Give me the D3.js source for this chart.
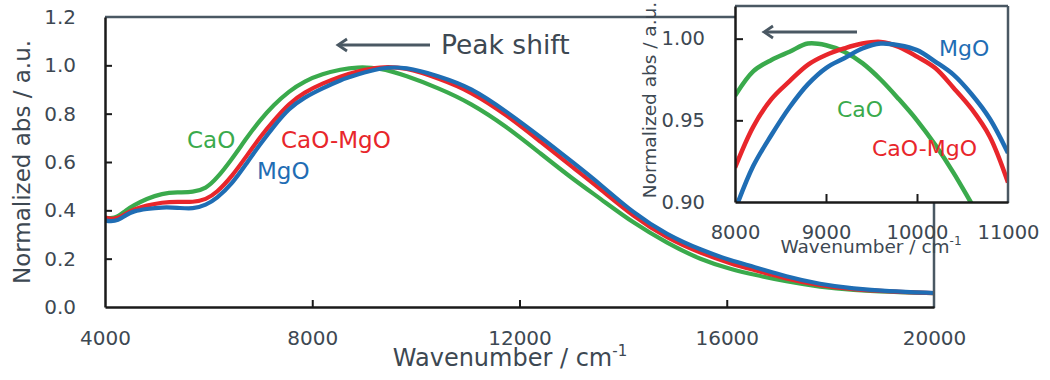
<!DOCTYPE html>
<html><head><meta charset="utf-8">
<script src="https://cdn.jsdelivr.net/npm/d3@7"></script>
<style>body{margin:0;background:#fff}svg{display:block}text{font-family:"DejaVu Sans",Verdana,sans-serif}</style>
</head><body>
<svg id="c" width="1050" height="380"></svg>
<script>
// main spectrum
const wavenumbers = [4000,4100,4250,4400,4550,4800,5100,5400,5700,5950,6150,6450,6750,7000,7250,7550,7850,8200,8550,8850,9300,9800,10450,11050,11750,12400,13050,13550,14200,14850,15500,16100,16500,17150,17800,18450,19100,20000];
const caoValues    = [0.370,0.366,0.372,0.400,0.420,0.448,0.470,0.475,0.475,0.490,0.530,0.612,0.705,0.775,0.835,0.893,0.935,0.965,0.983,0.993,0.990,0.958,0.905,0.845,0.747,0.636,0.526,0.450,0.347,0.264,0.195,0.155,0.135,0.105,0.083,0.070,0.063,0.057];
const caoMgoValues = [0.370,0.364,0.366,0.386,0.404,0.420,0.433,0.436,0.433,0.445,0.472,0.540,0.630,0.705,0.770,0.842,0.889,0.925,0.955,0.974,0.995,0.992,0.945,0.893,0.795,0.685,0.574,0.490,0.374,0.284,0.222,0.178,0.155,0.117,0.088,0.073,0.064,0.057];
const mgoValues    = [0.358,0.354,0.357,0.380,0.397,0.406,0.413,0.411,0.405,0.422,0.448,0.508,0.600,0.675,0.745,0.822,0.868,0.905,0.940,0.960,0.990,0.995,0.955,0.910,0.809,0.705,0.595,0.510,0.388,0.298,0.236,0.190,0.168,0.125,0.094,0.076,0.065,0.058];
// inset (zoom on the peak)
const insetWavenumbers = [8000,8200,8400,8600,8800,9000,9200,9400,9600,9800,10000,10200,10400,10600,10800,11000];
const insetCao    = [0.965,0.980,0.987,0.992,0.997,0.996,0.992,0.985,0.975,0.963,0.950,0.935,0.918,0.899,0.880,0.860];
const insetCaoMgo = [0.921,0.946,0.963,0.974,0.984,0.990,0.994,0.997,0.998,0.995,0.989,0.982,0.970,0.957,0.940,0.912];
const insetMgo    = [0.895,0.922,0.941,0.958,0.972,0.982,0.988,0.994,0.997,0.996,0.993,0.986,0.978,0.966,0.951,0.930];
const mainXTicks = [4000,8000,12000,16000,20000];
const mainYTicks = [0,0.2,0.4,0.6,0.8,1.0,1.2];
const insetXTicks = [8000,9000,10000,11000];
const insetYTicks = [0.90,0.95,1.00];

const series = [
  {name:"CaO", values:caoValues, inset:insetCao, color:"#3aaa4c"},
  {name:"CaO-MgO", values:caoMgoValues, inset:insetCaoMgo, color:"#e8262b"},
  {name:"MgO", values:mgoValues, inset:insetMgo, color:"#1f6db4"}
];
const txt = "#3d4852", frame = "#4a5863", ax = "#1a1a1a";
const svg = d3.select("#c");

// main
const x = d3.scaleLinear().domain([4000,20000]).range([105,934]);
const y = d3.scaleLinear().domain([0,1.2]).range([307,17]);
svg.append("clipPath").attr("id","mc").append("rect").attr("x",105).attr("y",17).attr("width",829).attr("height",290);
const gm = svg.append("g").attr("clip-path","url(#mc)");
const line = d3.line().x(d=>x(d[0])).y(d=>y(d[1])).curve(d3.curveBasis);
[series[0],series[1],series[2]].forEach(s=>{
  gm.append("path").attr("d",line(wavenumbers.map((w,i)=>[w,s.values[i]])))
    .attr("fill","none").attr("stroke",s.color).attr("stroke-width",4.2);
});
// frame
svg.append("line").attr("x1",105).attr("x2",934).attr("y1",17).attr("y2",17).attr("stroke",frame).attr("stroke-width",2.5);
svg.append("line").attr("x1",934).attr("x2",934).attr("y1",17).attr("y2",308).attr("stroke",frame).attr("stroke-width",2.5);
const xa = svg.append("g").attr("transform","translate(0,307)").call(d3.axisBottom(x).tickValues(mainXTicks).tickFormat(d3.format("d")).tickSizeInner(-7).tickSizeOuter(0).tickPadding(24));
const ya = svg.append("g").attr("transform","translate(105,0)").call(d3.axisLeft(y).tickValues(mainYTicks).tickFormat(d3.format(".1f")).tickSizeInner(-7).tickSizeOuter(0).tickPadding(29));
[xa,ya].forEach(g=>{
  g.select(".domain").attr("stroke",ax).attr("stroke-width",2.5);
  g.selectAll(".tick line").attr("stroke",ax).attr("stroke-width",2);
  g.selectAll(".tick text").attr("fill",txt).attr("font-size",20).attr("font-family","DejaVu Sans");
});
xa.selectAll(".tick").filter(d=>d===4000||d===20000).select("line").remove();
ya.selectAll(".tick").filter(d=>d===0||d===1.2).select("line").remove();

svg.append("text").attr("transform","translate(30,162) rotate(-90)").attr("text-anchor","middle")
  .attr("fill",txt).attr("font-size",23).text("Normalized abs / a.u.");
const xt = svg.append("text").attr("x",510).attr("y",366).attr("text-anchor","middle").attr("fill",txt).attr("font-size",24);
xt.append("tspan").text("Wavenumber / cm");
xt.append("tspan").attr("font-size",15).attr("dy",-10).text("-1");

// peak shift arrow
function arrow(x1,x2,yy,w,h){
  svg.append("line").attr("x1",x1).attr("x2",x2+2).attr("y1",yy).attr("y2",yy).attr("stroke",frame).attr("stroke-width",2.8);
  svg.append("path").attr("d",`M${x2+w},${yy-h}L${x2},${yy}L${x2+w},${yy+h}`).attr("fill","none").attr("stroke",frame).attr("stroke-width",2.8).attr("stroke-linejoin","miter");
}
arrow(430,338,45,9,6);
svg.append("text").attr("x",441).attr("y",54).attr("fill",txt).attr("font-size",26.5).text("Peak shift");

// series labels main
svg.append("text").attr("x",187).attr("y",148).attr("fill",series[0].color).attr("font-size",23).text("CaO");
svg.append("text").attr("x",281).attr("y",148).attr("fill",series[1].color).attr("font-size",23).text("CaO-MgO");
svg.append("text").attr("x",257).attr("y",179).attr("fill",series[2].color).attr("font-size",23).text("MgO");

// inset
const ix = d3.scaleLinear().domain([8000,11000]).range([735,1008]);
const iy = d3.scaleLinear().domain([0.90,1.02]).range([202,6]);
svg.append("rect").attr("x",735).attr("y",6).attr("width",273).attr("height",196).attr("fill","#fff");
svg.append("clipPath").attr("id","ic").append("rect").attr("x",735).attr("y",6).attr("width",273).attr("height",196);
const gi = svg.append("g").attr("clip-path","url(#ic)");
const iline = d3.line().x(d=>ix(d[0])).y(d=>iy(d[1])).curve(d3.curveCatmullRom.alpha(0.5));
[series[0],series[1],series[2]].forEach(s=>{
  gi.append("path").attr("d",iline(insetWavenumbers.map((w,i)=>[w,s.inset[i]])))
    .attr("fill","none").attr("stroke",s.color).attr("stroke-width",4.5);
});
svg.append("line").attr("x1",735).attr("x2",1008).attr("y1",6).attr("y2",6).attr("stroke",frame).attr("stroke-width",2.5);
svg.append("line").attr("x1",1008).attr("x2",1008).attr("y1",6).attr("y2",203).attr("stroke",frame).attr("stroke-width",2.5);
const ixa = svg.append("g").attr("transform","translate(0,202)").call(d3.axisBottom(ix).tickValues(insetXTicks).tickFormat(d3.format("d")).tickSizeInner(-8).tickSizeOuter(0).tickPadding(23));
const iya = svg.append("g").attr("transform","translate(735,0)").call(d3.axisLeft(iy).tickValues(insetYTicks).tickFormat(d3.format(".2f")).tickSizeInner(-8).tickSizeOuter(0).tickPadding(30));
[ixa,iya].forEach(g=>{
  g.select(".domain").attr("stroke",ax).attr("stroke-width",2.5);
  g.selectAll(".tick line").attr("stroke",ax).attr("stroke-width",2);
  g.selectAll(".tick text").attr("fill",txt).attr("font-size",19.5).attr("font-family","DejaVu Sans");
});
ixa.selectAll(".tick").filter(d=>d===8000||d===11000).select("line").remove();
iya.selectAll(".tick").filter(d=>d===0.90).select("line").remove();
svg.append("text").attr("transform","translate(656,100) rotate(-90)").attr("text-anchor","middle")
  .attr("fill",txt).attr("font-size",18.5).text("Normalized abs / a.u.");
const ixt = svg.append("text").attr("x",871).attr("y",253).attr("text-anchor","middle").attr("fill",txt).attr("font-size",18.5);
ixt.append("tspan").text("Wavenumber / cm");
ixt.append("tspan").attr("font-size",12).attr("dy",-8).text("-1");
arrow(857,764,32,9,6);
svg.append("text").attr("x",939).attr("y",56).attr("fill",series[2].color).attr("font-size",22).text("MgO");
svg.append("text").attr("x",837).attr("y",117).attr("fill",series[0].color).attr("font-size",22).text("CaO");
svg.append("text").attr("x",872).attr("y",156).attr("fill",series[1].color).attr("font-size",22).text("CaO-MgO");
</script>
</body></html>
